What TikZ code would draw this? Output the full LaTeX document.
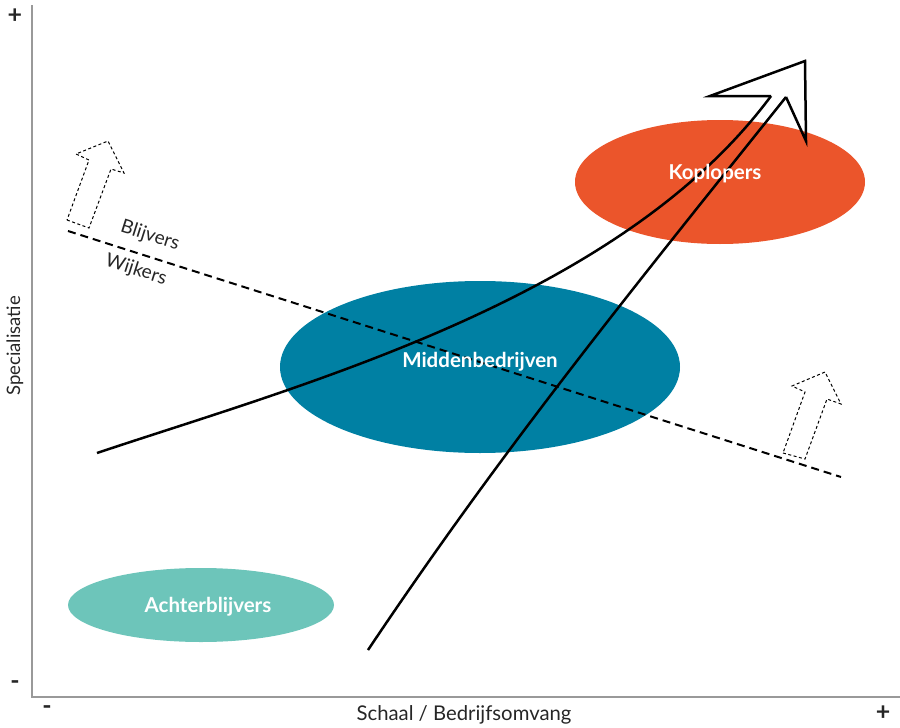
\documentclass[tikz,border=0pt]{standalone}
\usepackage{fontspec}
\setmainfont{Lato}
\usetikzlibrary{shapes.geometric}

\definecolor{oranje}{HTML}{EB552B}
\definecolor{blauw}{HTML}{0080A3}
\definecolor{turkoois}{HTML}{6DC5BA}

\begin{document}
\begin{tikzpicture}[
		x=1pt, y=-1pt,
		groep/.style={ellipse, inner sep=0pt},
		groep_tekst/.style={inner sep=1pt, text=white, font=\fontsize{20.5}{22}\selectfont\bfseries},
		as/.style={draw=black!40, line width=1.5pt},
		teken/.style={inner sep=0pt, text=black!85, font=\fontsize{25}{26}\selectfont\bfseries},
		grens/.style={dash pattern=on 8pt off 5pt, line width=2pt},
		pijltje/.style={dash pattern=on 3pt off 2.5pt, line width=1pt},
		groei/.style={line width=2.5pt, line join=miter}
	]
  \useasboundingbox (0,0) rectangle (900,728);

  % assen
  \coordinate (top) at (32,5);
  \coordinate (origin) at (32,697);
  \coordinate (rechts) at (900,697);
  \draw[as] (top) -- (origin) -- (rechts);
  \node (y_plus) [teken] at (15,16) {+};
  \node (y_min) [teken] at (15,685) {-};
  \node (x_min) [teken] at (47,710) {-};
  \node (x_plus) [teken] at (883,713) {+};
  \node (y_label) [rotate=90, inner sep=0pt, font=\fontsize{18.5}{20}\selectfont, text=black!85] at (15,346) {Specialisatie};
  \node (x_label) [inner sep=0pt, font=\fontsize{20.3}{22}\selectfont, text=black!85] at (464,715) {Schaal / Bedrijfsomvang};

  % groepen
  \node (kop) [groep, fill=oranje, minimum width=290, minimum height=124] at (720,182) {};
  \node (midden) [groep, fill=blauw, minimum width=400, minimum height=172] at (480,367) {};
  \node (achter) [groep, fill=turkoois, minimum width=266, minimum height=74] at (201,605) {};

  % grens blijvers / wijkers
  \coordinate (grens_a) at (68,231);
  \coordinate (grens_b) at (841,477);
  \draw[grens] (grens_a) -- (grens_b);
  \node (blijvers) [rotate=-17.65, inner sep=0pt, font=\fontsize{19}{20}\selectfont, text=black!85] at (150,236) {Blijvers};
  \node (wijkers) [rotate=-17.65, inner sep=0pt, font=\fontsize{19}{20}\selectfont, text=black!85] at (136,270) {Wijkers};
  \draw[pijltje] (67,220) -- (89,228) -- (111,169) -- (124,173) -- (108,141) -- (76,154) -- (89,160) -- cycle;
  \draw[pijltje] (783,453) -- (805,459) -- (827,399) -- (841,404) -- (825,372) -- (792,386) -- (805,392) -- cycle;

  % groeipijl
  \coordinate (start_a) at (97,453);
  \coordinate (start_b) at (368,650);
  \coordinate (kop_a) at (771,96);
  \coordinate (kop_b) at (786,97);
  \draw[groei] (start_a) .. controls (300,385) and (620,300) .. (kop_a);
  \draw[groei] (start_b) .. controls (502,450) and (626,297) .. (kop_b);
  \draw[groei] (kop_a) -- (710,96) -- (805,61) -- (806,141) -- (kop_b);

  % namen
  \node (kop_label) [groep_tekst] at (715,174) {Koplopers};
  \node (midden_label) [groep_tekst] at (480,362) {Middenbedrijven};
  \node (achter_label) [groep_tekst] at (208,607) {Achterblijvers};
\end{tikzpicture}
\end{document}
